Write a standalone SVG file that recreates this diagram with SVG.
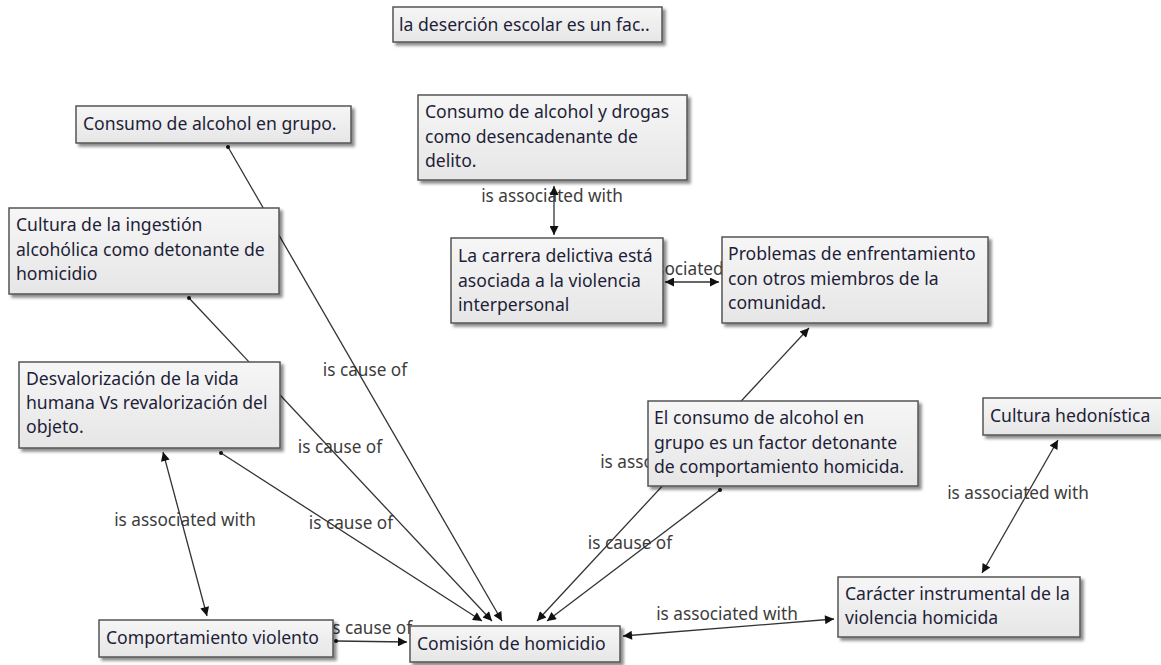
<svg xmlns="http://www.w3.org/2000/svg" width="1161" height="665" viewBox="0 0 1161 665">
<defs>
<linearGradient id="g" x1="0" y1="0" x2="0" y2="1">
<stop offset="0" stop-color="#f6f6f6"/>
<stop offset="1" stop-color="#e6e6e6"/>
</linearGradient>
<filter id="sh" x="-10%" y="-20%" width="130%" height="160%">
<feDropShadow dx="3" dy="3" stdDeviation="1.8" flood-color="#000" flood-opacity="0.45"/>
</filter>
<marker id="ah" viewBox="0 0 10 10" refX="10" refY="5" markerWidth="11" markerHeight="9" markerUnits="userSpaceOnUse" orient="auto-start-reverse">
<path d="M0,0 L10,5 L0,10 z" fill="#111"/>
</marker>
</defs>
<style>
.n rect{fill:url(#g);stroke:#555;stroke-width:1.5;filter:url(#sh)}
.n text{font-family:"Noto Sans","Open Sans","DejaVu Sans",sans-serif;font-size:17.6px;fill:#1e1e38}
.c line{stroke:#333;stroke-width:1.3;fill:none}
.c circle{fill:#111}
.lb{font-family:"Noto Sans","Open Sans","DejaVu Sans",sans-serif;font-size:17.2px;fill:#3c3c3c;text-anchor:middle}
</style>
<rect width="1161" height="665" fill="#fff"/>
<g id="connectors" class="c">
<text class="lb" x="365" y="376">is cause of</text>
<text class="lb" x="340" y="453">is cause of</text>
<text class="lb" x="351" y="529">is cause of</text>
<text class="lb" x="185" y="526">is associated with</text>
<text class="lb" x="370" y="634">is cause of</text>
<text class="lb" x="727" y="620">is associated with</text>
<text class="lb" x="1018" y="499">is associated with</text>
<text class="lb" x="552" y="202">is associated with</text>
<text class="lb" x="692" y="275">is associated with</text>
<text class="lb" x="671" y="468">is associated with</text>
<text class="lb" x="630" y="549">is cause of</text>
<line x1="228" y1="147" x2="502" y2="621" marker-end="url(#ah)"/>
<circle cx="228" cy="147" r="2"/>
<line x1="189" y1="298" x2="492" y2="621" marker-end="url(#ah)"/>
<circle cx="189" cy="298" r="2"/>
<line x1="221" y1="453" x2="482" y2="621" marker-end="url(#ah)"/>
<circle cx="221" cy="453" r="2"/>
<line x1="163" y1="452" x2="207" y2="616" marker-start="url(#ah)" marker-end="url(#ah)"/>
<line x1="336" y1="641" x2="407" y2="642" marker-end="url(#ah)"/>
<circle cx="336" cy="641" r="2"/>
<line x1="623" y1="636" x2="834" y2="619" marker-start="url(#ah)" marker-end="url(#ah)"/>
<line x1="1058" y1="440" x2="982" y2="573" marker-start="url(#ah)" marker-end="url(#ah)"/>
<line x1="554" y1="186" x2="554" y2="235" marker-start="url(#ah)" marker-end="url(#ah)"/>
<line x1="665" y1="282" x2="719" y2="282" marker-start="url(#ah)" marker-end="url(#ah)"/>
<line x1="537" y1="621" x2="809" y2="328" marker-start="url(#ah)" marker-end="url(#ah)"/>
<line x1="720" y1="490" x2="547" y2="621" marker-end="url(#ah)"/>
<circle cx="720" cy="490" r="2"/>
</g>
<g id="n1" class="n"><rect x="393" y="7" width="269" height="35"/><text x="399" y="31">la deserción escolar es un fac..</text></g>
<g id="n2" class="n"><rect x="76" y="106" width="275" height="37"/><text x="83" y="130">Consumo de alcohol en grupo.</text></g>
<g id="n3" class="n"><rect x="9" y="208" width="270" height="86"/><text x="16" y="231">Cultura de la ingestión</text><text x="16" y="255.5">alcohólica como detonante de</text><text x="16" y="280">homicidio</text></g>
<g id="n4" class="n"><rect x="418" y="95" width="269" height="85"/><text x="425" y="118">Consumo de alcohol y drogas</text><text x="425" y="142.5">como desencadenante de</text><text x="425" y="167">delito.</text></g>
<g id="n5" class="n"><rect x="451" y="238" width="212" height="85"/><text x="458" y="262">La carrera delictiva está</text><text x="458" y="286.5">asociada a la violencia</text><text x="458" y="311">interpersonal</text></g>
<g id="n6" class="n"><rect x="722" y="237" width="266" height="86"/><text x="728" y="260">Problemas de enfrentamiento</text><text x="728" y="284.5">con otros miembros de la</text><text x="728" y="309">comunidad.</text></g>
<g id="n7" class="n"><rect x="19" y="362" width="261" height="86"/><text x="26" y="385">Desvalorización de la vida</text><text x="26" y="409">humana Vs revalorización del</text><text x="26" y="433">objeto.</text></g>
<g id="n8" class="n"><rect x="648" y="401" width="270" height="85"/><text x="654" y="424">El consumo de alcohol en</text><text x="654" y="448.5">grupo es un factor detonante</text><text x="654" y="473">de comportamiento homicida.</text></g>
<g id="n9" class="n"><rect x="983" y="398" width="190" height="37"/><text x="990" y="422">Cultura hedonística</text></g>
<g id="n10" class="n"><rect x="838" y="577" width="242" height="60"/><text x="845" y="600">Carácter instrumental de la</text><text x="845" y="624">violencia homicida</text></g>
<g id="n11" class="n"><rect x="99" y="620" width="234" height="37"/><text x="106" y="644">Comportamiento violento</text></g>
<g id="n12" class="n"><rect x="410" y="626" width="210" height="36"/><text x="417" y="650">Comisión de homicidio</text></g>
</svg>
